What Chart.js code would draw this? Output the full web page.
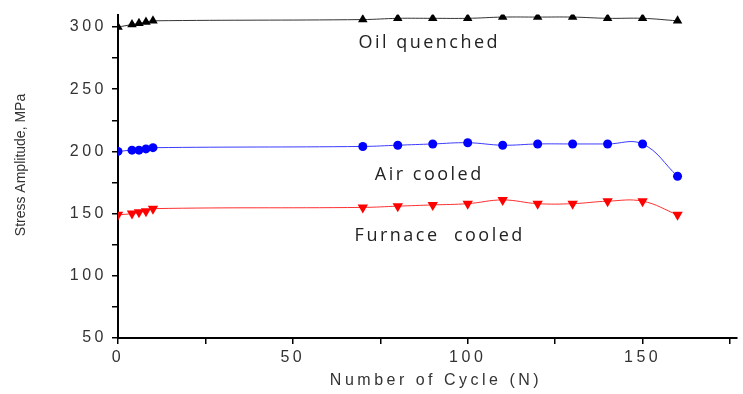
<!DOCTYPE html>
<html>
<head>
<meta charset="utf-8">
<script src="https://cdn.jsdelivr.net/npm/chart.js@4"></script>
<style>
  html, body { margin: 0; padding: 0; background: #fff; }
  #wrap { width: 743px; height: 394px; }
</style>
</head>
<body>
<div id="wrap"><canvas id="chart"></canvas></div>
<script>
// number of cycles (x values shared by all three curves)
const cycles = [0, 4, 6, 8, 10, 70, 80, 90, 100, 110, 120, 130, 140, 150, 160];

// stress amplitude, MPa
const oilQuenched = [300, 302, 303, 304, 305, 306, 307, 307, 307, 308, 308, 308, 307, 307, 305];
const airCooled = [200, 201, 201, 202, 203, 204, 205, 206, 207, 205, 206, 206, 206, 206, 180];
const furnaceCooled = [149, 150, 151, 152, 154, 155, 156, 157, 158, 161, 158, 158, 160, 160, 149];

const seriesNames = ['Oil quenched', 'Air cooled', 'Furnace  cooled'];
const xTickValues = [0, 25, 50, 75, 100, 125, 150, 175];
const yTickValues = [50, 75, 100, 125, 150, 175, 200, 225, 250, 275, 300];

// where the curve names sit, in data units
const labelSpots = [[89, 287], [89, 181], [92, 132]];

function pts(ys) {
    return cycles.map((x, i) => ({ x: x, y: ys[i] }));
}

const textPlugin = {
    id: 'textPlugin',
    beforeDraw(chart) {
        // the reference text is stretched sideways a bit
        chart.ctx.letterSpacing = '3.5px';
    },
    afterDraw(chart) {
        const ctx = chart.ctx;
        const xs = chart.scales.x, ys = chart.scales.y;
        ctx.save();
        ctx.fillStyle = '#222';
        ctx.textAlign = 'center';
        ctx.textBaseline = 'middle';
        ctx.letterSpacing = '2.5px';
        ctx.font = '18px "Open Sans"';
        seriesNames.forEach((name, i) => {
            ctx.fillText(name, xs.getPixelForValue(labelSpots[i][0]), ys.getPixelForValue(labelSpots[i][1]));
        });

        // x axis title
        ctx.fillStyle = '#333';
        ctx.letterSpacing = '3.5px';
        ctx.font = '16px "Liberation Sans"';
        ctx.fillText('Number of Cycle (N)', 436, 381);

        // y axis title
        ctx.letterSpacing = '0px';
        ctx.font = '14px "Liberation Sans"';
        ctx.translate(21, 165);
        ctx.rotate(-Math.PI / 2);
        ctx.fillText('Stress Amplitude, MPa', 0, 0);
        ctx.restore();
    }
};

new Chart(document.getElementById('chart'), {
    type: 'line',
    data: {
        datasets: [
            {
                label: seriesNames[0],
                data: pts(oilQuenched),
                borderColor: '#333',
                backgroundColor: '#000',
                borderWidth: 1,
                pointStyle: 'triangle',
                pointRadius: 5.5,
                pointBorderWidth: 0,
                tension: 0.4
            },
            {
                label: seriesNames[1],
                data: pts(airCooled),
                borderColor: '#3b3bff',
                backgroundColor: '#0000ff',
                borderWidth: 1,
                pointStyle: 'circle',
                pointRadius: 4.5,
                pointBorderWidth: 0,
                tension: 0.4
            },
            {
                label: seriesNames[2],
                data: pts(furnaceCooled),
                borderColor: '#ff3030',
                backgroundColor: '#ff0000',
                borderWidth: 1,
                pointStyle: 'triangle',
                pointRotation: 180,
                pointRadius: 6,
                pointBorderWidth: 0,
                tension: 0.4
            }
        ]
    },
    options: {
        responsive: true,
        maintainAspectRatio: false,
        animation: false,
        layout: { padding: { top: 3, right: 1, left: 0, bottom: 0 } },
        plugins: {
            legend: { display: false },
            tooltip: { enabled: false }
        },
        scales: {
            x: {
                type: 'linear',
                min: 0,
                max: 177,
                afterBuildTicks: (s) => { s.ticks = xTickValues.map(v => ({ value: v })); },
                afterFit: (s) => { s.height = 56; },
                border: { display: true, color: '#000', width: 2 },
                grid: { drawOnChartArea: false, drawTicks: true, tickLength: 6, color: '#000', lineWidth: 1.5 },
                ticks: {
                    autoSkip: false,
                    maxRotation: 0,
                    padding: 4,
                    color: '#333',
                    font: { family: 'Liberation Sans', size: 16 },
                    callback: (v) => (v % 50 === 0 ? v : '')
                }
            },
            y: {
                type: 'linear',
                min: 50,
                max: 310,
                afterBuildTicks: (s) => { s.ticks = yTickValues.map(v => ({ value: v })); },
                afterFit: (s) => { s.width = 118; },
                border: { display: true, color: '#000', width: 2 },
                grid: { drawOnChartArea: false, drawTicks: true, tickLength: 6, color: '#000', lineWidth: 1.5 },
                ticks: {
                    autoSkip: false,
                    padding: 5,
                    color: '#333',
                    font: { family: 'Liberation Sans', size: 16 },
                    callback: (v) => (v % 50 === 0 ? v : '')
                }
            }
        }
    },
    plugins: [textPlugin]
});
</script>
</body>
</html>
